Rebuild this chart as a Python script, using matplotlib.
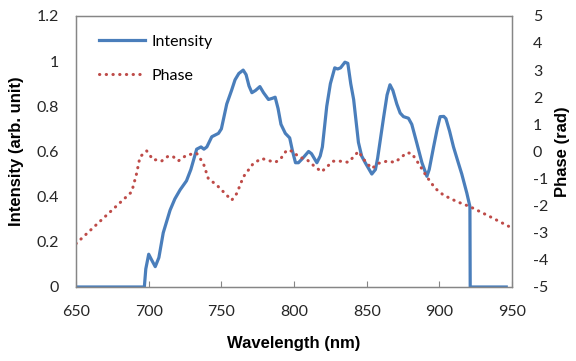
import matplotlib.pyplot as plt

# intensity spectrum
wl_int = [650, 697, 698, 700, 702, 704.5, 707, 710, 714.7, 718, 721.6, 726, 729, 733, 736, 738, 740,
          743.4, 748, 750, 753.7, 757, 759.4, 762, 765, 767, 769, 771, 773.5, 776.5, 779, 782.4, 785,
          787, 789, 791, 794, 797, 799, 801, 803, 806, 810, 812, 815.7, 818, 819.5, 822.5, 825, 828,
          830, 832, 835, 837, 839, 841, 844.3, 846.5, 849, 853.5, 856, 857.5, 861.6, 864, 866, 868,
          870.7, 873, 875.3, 878.7, 881, 884.5, 888, 891.4, 893, 896, 898.5, 900.5, 903, 904.5, 907,
          909.7, 913, 915.4, 918.9, 921, 921.2, 946]
intensity = [0, 0, 0.08, 0.145, 0.12, 0.09, 0.13, 0.24, 0.34, 0.39, 0.43, 0.47, 0.52, 0.61, 0.62, 0.61,
             0.62, 0.665, 0.68, 0.70, 0.81, 0.87, 0.917, 0.945, 0.96, 0.94, 0.89, 0.86, 0.87, 0.887,
             0.86, 0.83, 0.835, 0.84, 0.79, 0.72, 0.68, 0.66, 0.60, 0.55, 0.55, 0.57, 0.60, 0.59, 0.55,
             0.58, 0.62, 0.80, 0.90, 0.97, 0.965, 0.97, 0.995, 0.99, 0.90, 0.83, 0.64, 0.58, 0.55, 0.50,
             0.52, 0.57, 0.75, 0.85, 0.895, 0.87, 0.81, 0.77, 0.754, 0.747, 0.72, 0.636, 0.55, 0.49,
             0.52, 0.62, 0.70, 0.754, 0.755, 0.745, 0.69, 0.62, 0.55, 0.50, 0.415, 0.356, 0, 0]

# spectral phase
wl_ph = [650, 688.3, 691.7, 694, 698.6, 703.2, 706, 709, 713.5, 717, 720.4, 726.2, 733, 737.6, 741,
         746.8, 751.4, 757.1, 760.6, 765.1, 772, 777.8, 783.5, 787, 790.4, 795, 799.5, 803, 808.8,
         814.5, 819, 822.5, 827, 831.7, 837.4, 840.9, 844.3, 848.9, 853.5, 858, 863.8, 869.5, 874.1,
         877.5, 881, 885.6, 891.4, 897.1, 902.8, 912, 921.2, 935, 947.6]
phase = [-3.4, -1.49, -0.81, -0.2, 0.02, -0.32, -0.3, -0.35, -0.17, -0.2, -0.35, -0.13, -0.07, -0.44,
         -1.0, -1.24, -1.49, -1.8, -1.55, -0.94, -0.44, -0.26, -0.35, -0.4, -0.3, 0.05, 0.0, -0.2,
         -0.3, -0.57, -0.75, -0.57, -0.36, -0.36, -0.4, -0.2, 0.0, -0.36, -0.63, -0.44, -0.36, -0.4,
         -0.2, -0.05, -0.07, -0.44, -0.94, -1.36, -1.61, -1.85, -2.04, -2.41, -2.76]

xticks = [650, 700, 750, 800, 850, 900, 950]
yticks_l = [0, 0.2, 0.4, 0.6, 0.8, 1, 1.2]
yticks_r = [-5, -4, -3, -2, -1, 0, 1, 2, 3, 4, 5]

tick_font = {'family': 'Lato', 'size': 11.5}
lab_font = {'family': 'Liberation Sans', 'size': 12, 'weight': 'bold'}

fig = plt.figure(figsize=(5.76, 3.61), dpi=100)
ax = fig.add_axes([0.132, 0.205, 0.757, 0.751])
ax2 = ax.twinx()

l1, = ax.plot(wl_int, intensity, color='#4A7EBB', lw=2.3, label='Intensity', solid_joinstyle='round')
l2, = ax2.plot(wl_ph, phase, color='#BE4B48', lw=2.2, linestyle=(0, (0.1, 2.1)),
               dash_capstyle='round', label='Phase')

ax.set_xlim(650, 950)
ax.set_ylim(0, 1.2)
ax2.set_ylim(-5, 5)
ax.set_xticks(xticks)
ax.set_yticks(yticks_l)
ax2.set_yticks(yticks_r)
ax.set_xticklabels([str(t) for t in xticks], fontdict=tick_font)
ax.set_yticklabels(['0', '0.2', '0.4', '0.6', '0.8', '1', '1.2'], fontdict=tick_font)
ax2.set_yticklabels([str(t) for t in yticks_r], fontdict=tick_font)

ax.tick_params(axis='x', direction='in', length=4, color='#868686', pad=13, labelcolor='#262626')
ax.tick_params(axis='y', length=0, pad=12, labelcolor='#262626')
ax2.tick_params(axis='y', length=0, pad=15, labelcolor='#262626')
for a in (ax, ax2):
    for s in a.spines.values():
        s.set_color('#868686')
        s.set_linewidth(0.9)

ax.set_xlabel('Wavelength (nm)', fontdict=lab_font, labelpad=12)
ax.set_ylabel('Intensity (arb. unit)', fontdict=lab_font, labelpad=9)
ax2.set_ylabel('Phase (rad)', fontdict=lab_font, labelpad=5)

leg = ax.legend(handles=[l1, l2], loc='upper left', bbox_to_anchor=(0.02, 0.985), frameon=False,
                handlelength=2.9, handletextpad=0.35, labelspacing=1.25,
                prop={'family': 'Lato', 'size': 11.5})

fig.savefig('out.png', dpi=100)
